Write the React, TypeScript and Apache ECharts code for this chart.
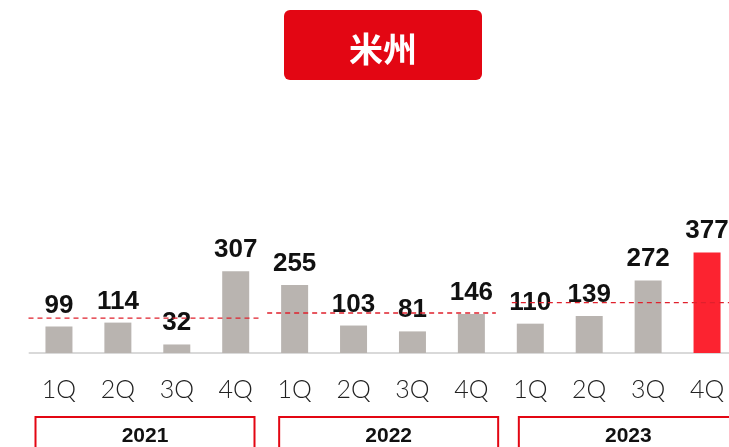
import React, { useEffect, useRef } from "react";
import * as echarts from "echarts";

const categories = ["1Q", "2Q", "3Q", "4Q", "1Q", "2Q", "3Q", "4Q", "1Q", "2Q", "3Q", "4Q"];
const years = ["2021", "2022", "2023"];
const values = [99, 114, 32, 307, 255, 103, 81, 146, 110, 139, 272, 377];
const yearLevels = [131, 150, 189];
const highlightIndex = 11;
const title = "米州";

const GREY = "#b9b4b0";
const RED_BAR = "#fc2330";
const RED = "#e30613";

export default function App() {
  const ref = useRef<HTMLDivElement>(null);
  useEffect(() => {
    if (!ref.current) return;
    const chart = echarts.init(ref.current, undefined, { renderer: "svg" });
    chart.setOption({
      animation: false,
      grid: {
        left: 29.5,
        width: 707,
        top: 193,
        bottom: 94,
        containLabel: false,
        outerBoundsMode: "none",
      },
      xAxis: {
        type: "category",
        data: categories,
        axisLine: { show: true, lineStyle: { color: "#d9d9d9", width: 2 } },
        axisTick: { show: false },
        axisLabel: {
          color: "#222",
          fontSize: 25,
          fontFamily: "Lato",
          fontWeight: 300,
          margin: 22,
        },
      },
      yAxis: { type: "value", min: 0, max: 600, show: false, splitLine: { show: false } },
      series: [
        {
          type: "bar",
          barWidth: 27,
          data: values.map((v, i) => ({
            value: v,
            itemStyle: { color: i === highlightIndex ? RED_BAR : GREY },
          })),
          label: {
            show: true,
            position: "top",
            distance: 10,
            color: "#111",
            fontSize: 26,
            fontWeight: "bold",
            fontFamily: "Liberation Sans",
          },
        },
      ],
    });

    const cx = (i: number) => chart.convertToPixel({ xAxisIndex: 0 }, i) as number;
    const py = (v: number) => chart.convertToPixel({ yAxisIndex: 0 }, v) as number;
    const step = cx(1) - cx(0);
    const boxOffsets = [6, 14, 18];
    const lineStart = [-1, 2, 11];
    const graphics: any[] = [
      {
        type: "rect",
        shape: { x: 284, y: 10, width: 198, height: 70, r: 6 },
        style: { fill: RED },
      },
      {
        type: "text",
        x: 383,
        y: 47,
        style: {
          text: title,
          fill: "#fff",
          font: "bold 34px 'Noto Sans CJK JP'",
          textAlign: "center",
          textVerticalAlign: "middle",
        },
      },
    ];
    years.forEach((yr, k) => {
      const start = cx(k * 4) - step / 2;
      const end = cx(k * 4 + 3) + step / 2;
      const y = py(yearLevels[k]);
      graphics.push({
        type: "line",
        shape: { x1: start + lineStart[k], y1: y, x2: end - 5, y2: y },
        style: { stroke: "#e0202c", lineWidth: 1.3, lineDash: [5, 4] },
        z: 10,
      });
      const left = start + boxOffsets[k];
      graphics.push({
        type: "rect",
        shape: { x: left, y: 417, width: 219, height: 40 },
        style: { fill: "none", stroke: RED, lineWidth: 2 },
      });
      graphics.push({
        type: "text",
        x: left + 109.5,
        y: 434,
        style: {
          text: yr,
          fill: "#111",
          font: "bold 21px 'Liberation Sans'",
          textAlign: "center",
          textVerticalAlign: "middle",
        },
      });
    });
    chart.setOption({ graphic: graphics });
    return () => chart.dispose();
  }, []);
  return <div ref={ref} style={{ width: 729, height: 447, position: "fixed", left: 0, top: 0 }} />;
}
